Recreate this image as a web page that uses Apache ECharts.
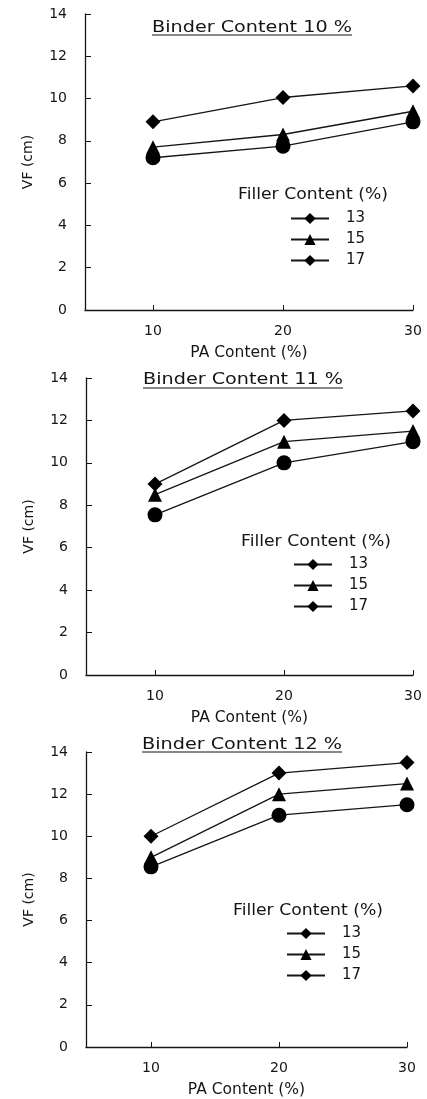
<!DOCTYPE html>
<html>
<head>
<meta charset="utf-8">
<script src="https://cdn.jsdelivr.net/npm/echarts@6/dist/echarts.min.js"></script>
<style>
html,body{margin:0;padding:0;background:#fff;}
#chart{width:427px;height:1099px;}
</style>
</head>
<body>
<div id="chart"></div>
<script>
// ---- data ----
const paContent = [10, 20, 30];
const xTickLabels = [10, 20, 30];
const yTickMax = 14;
const fillerLevels = ['13', '15', '17'];
const legendTitle = 'Filler Content (%)';
const binderTitles = ['Binder Content 10 %', 'Binder Content 11 %', 'Binder Content 12 %'];
const xAxisName = 'PA Content (%)';
const yAxisName = 'VF (cm)';
// panel 1: binder 10 %
const vfB10F13 = [8.9, 10.05, 10.6];
const vfB10F15 = [7.7, 8.3, 9.4];
const vfB10F17 = [7.2, 7.75, 8.9];
// panel 2: binder 11 %
const vfB11F13 = [9.0, 12.0, 12.45];
const vfB11F15 = [8.5, 11.0, 11.5];
const vfB11F17 = [7.55, 10.0, 11.0];
// panel 3: binder 12 %
const vfB12F13 = [10.0, 13.0, 13.5];
const vfB12F15 = [9.0, 12.0, 12.5];
const vfB12F17 = [8.55, 11.0, 11.5];

const panelData = [
  [vfB10F13, vfB10F15, vfB10F17],
  [vfB11F13, vfB11F15, vfB11F17],
  [vfB12F13, vfB12F15, vfB12F17]
];

// ---- layout (style only) ----
const FONT = '"DejaVu Sans", "Liberation Sans", Arial, sans-serif';
const INK = '#151515';
const panels = [
  {left: 85, top: 14, width: 328, height: 296, xMin: 4.77, titleCx: 252, titleCy: 28, ulY: 35,
   legTitleLeft: 238, legTitleCy: 195, legLeft: 290, legTop: 211},
  {left: 86, top: 378, width: 327, height: 297, xMin: 4.65, titleCx: 243, titleCy: 380, ulY: 388,
   legTitleLeft: 241, legTitleCy: 542, legLeft: 293, legTop: 557},
  {left: 86, top: 752, width: 321, height: 299, xMin: 4.92, titleCx: 242, titleCy: 745, ulY: 752,
   legTitleLeft: 233, legTitleCy: 911, legLeft: 286, legTop: 926}
];
const symbols = ['diamond', 'triangle', 'circle'];
const symbolSizes = [15, 14, 15];

const measureCtx = document.createElement('canvas').getContext('2d');
function textWidth(str, size) {
  measureCtx.font = size + 'px ' + FONT;
  return measureCtx.measureText(str).width;
}
const TITLE_SIZE = 15, TITLE_W = 200;
const LEGT_SIZE = 15, LEGT_W = 150;

const grids = [], xAxes = [], yAxes = [], series = [], legends = [], graphics = [];
panels.forEach((p, i) => {
  grids.push({left: p.left, top: p.top, width: p.width, height: p.height});
  xAxes.push({
    type: 'value', gridIndex: i, min: p.xMin, max: 30,
    name: xAxisName, nameLocation: 'middle', nameGap: 35,
    nameTextStyle: {fontFamily: FONT, fontSize: 15.5, color: INK},
    axisLine: {lineStyle: {color: INK, width: 1.3}},
    axisTick: {inside: true, length: 5, customValues: xTickLabels, lineStyle: {color: INK}},
    axisLabel: {customValues: xTickLabels, margin: 14, fontFamily: FONT, fontSize: 14, color: INK},
    splitLine: {show: false}
  });
  yAxes.push({
    type: 'value', gridIndex: i, min: 0, max: yTickMax, interval: 2,
    name: yAxisName, nameLocation: 'middle', nameGap: 50, nameRotate: 90,
    nameTextStyle: {fontFamily: FONT, fontSize: 14, color: INK},
    axisLine: {show: true, lineStyle: {color: INK, width: 1.3}},
    axisTick: {show: true, inside: true, length: 6, lineStyle: {color: INK}},
    axisLabel: {margin: 18, fontFamily: FONT, fontSize: 14, color: INK},
    splitLine: {show: false}
  });
  panelData[i].forEach((vals, k) => {
    const pts = paContent.map((x, j) => {
      const item = {value: [x, vals[j]]};
      if (k === 2) item.symbol = 'circle';
      return item;
    });
    series.push({
      name: fillerLevels[k], type: 'line', xAxisIndex: i, yAxisIndex: i,
      data: pts,
      symbol: k === 2 ? 'diamond' : symbols[k],
      symbolSize: symbolSizes[k],
      itemStyle: {color: '#000'},
      lineStyle: {color: INK, width: 1.3},
      animation: false
    });
  });
  legends.push({
    orient: 'vertical', left: p.legLeft, top: p.legTop, padding: 0,
    itemWidth: 38, itemHeight: 14, itemGap: 6,
    data: fillerLevels,
    textStyle: {fontFamily: FONT, fontSize: 15, lineHeight: 14, color: INK, padding: [0, 0, 0, 12]},
    selectedMode: false
  });
  // panel title with underline
  const tw = textWidth(binderTitles[i], TITLE_SIZE);
  const ts = TITLE_W / tw;
  graphics.push({
    type: 'text', silent: true, x: p.titleCx, y: p.titleCy, scaleX: ts,
    style: {text: binderTitles[i], fill: INK, font: TITLE_SIZE + 'px ' + FONT, align: 'center', verticalAlign: 'middle'}
  });
  graphics.push({
    type: 'line', silent: true,
    shape: {x1: p.titleCx - TITLE_W / 2, y1: p.ulY, x2: p.titleCx + TITLE_W / 2, y2: p.ulY},
    style: {stroke: INK, lineWidth: 1.2}
  });
  // legend heading
  const lw = textWidth(legendTitle, LEGT_SIZE);
  graphics.push({
    type: 'text', silent: true, x: p.legTitleLeft, y: p.legTitleCy, scaleX: LEGT_W / lw,
    style: {text: legendTitle, fill: INK, font: LEGT_SIZE + 'px ' + FONT, align: 'left', verticalAlign: 'middle'}
  });
});

const chart = echarts.init(document.getElementById('chart'), null, {renderer: 'canvas'});
chart.setOption({
  backgroundColor: '#fff',
  animation: false,
  legend: legends,
  grid: grids,
  xAxis: xAxes,
  yAxis: yAxes,
  series: series,
  graphic: graphics
});
</script>
</body>
</html>
